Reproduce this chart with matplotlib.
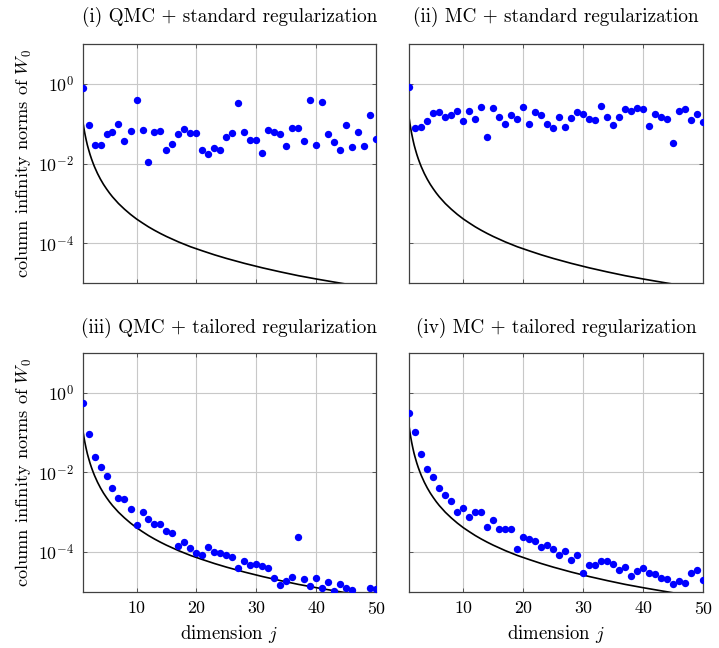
import numpy as np
import matplotlib
matplotlib.use("Agg")
import matplotlib.pyplot as plt

plt.rcParams["font.family"] = "serif"
plt.rcParams["font.serif"] = ["cmr10", "DejaVu Serif"]
plt.rcParams["mathtext.fontset"] = "cm"
plt.rcParams["axes.formatter.use_mathtext"] = True
plt.rcParams["font.size"] = 12

dims = np.arange(1, 51)

# column infinity norms of W_0
qmc_std = [0.79, 0.094, 0.030, 0.030, 0.055, 0.061, 0.096, 0.037, 0.066, 0.40,
           0.071, 0.0108, 0.062, 0.064, 0.0224, 0.0316, 0.054, 0.072, 0.060, 0.059,
           0.0215, 0.017, 0.025, 0.0224, 0.0456, 0.059, 0.34, 0.061, 0.040, 0.040,
           0.018, 0.069, 0.063, 0.055, 0.028, 0.079, 0.078, 0.0376, 0.39, 0.030,
           0.35, 0.057, 0.035, 0.022, 0.092, 0.0266, 0.061, 0.027, 0.165, 0.041]
mc_std = [0.83, 0.079, 0.083, 0.114, 0.188, 0.20, 0.15, 0.17, 0.21, 0.117,
          0.21, 0.135, 0.26, 0.046, 0.25, 0.144, 0.096, 0.17, 0.135, 0.27,
          0.098, 0.20, 0.168, 0.096, 0.077, 0.152, 0.083, 0.141, 0.192, 0.174,
          0.133, 0.124, 0.28, 0.15, 0.093, 0.15, 0.23, 0.207, 0.25, 0.233,
          0.089, 0.178, 0.15, 0.128, 0.033, 0.21, 0.23, 0.121, 0.174, 0.112]
qmc_tail = [0.54, 0.089, 0.0237, 0.0136, 0.0081, 0.0040, 0.0023, 0.0021, 0.00123, 4.7e-4,
            1.02e-3, 6.7e-4, 5.2e-4, 5.0e-4, 3.3e-4, 3.0e-4, 1.41e-4, 1.78e-4, 1.28e-4, 9.6e-5,
            8.4e-5, 1.35e-4, 1.0e-4, 9.3e-5, 8.3e-5, 7.5e-5, 4.1e-5, 6.1e-5, 4.7e-5, 5.1e-5,
            4.5e-5, 4.0e-5, 2.2e-5, 1.47e-5, 1.92e-5, 2.4e-5, 2.37e-4, 2.07e-5, 1.45e-5, 2.28e-5,
            1.24e-5, 1.81e-5, 1.08e-5, 1.55e-5, 1.26e-5, 1.15e-5, 7e-6, 7e-6, 1.24e-5, 1.2e-5]
mc_tail = [0.30, 0.102, 0.029, 0.0119, 0.0076, 0.0040, 0.0027, 0.00195, 0.00104, 0.00126,
           7.4e-4, 1.0e-3, 1.0e-3, 4.3e-4, 6.3e-4, 3.7e-4, 3.9e-4, 3.7e-4, 1.2e-4, 2.4e-4,
           2.14e-4, 1.88e-4, 1.36e-4, 1.55e-4, 1.17e-4, 8.4e-5, 1.08e-4, 6.4e-5, 8.4e-5, 3.0e-5,
           4.8e-5, 4.7e-5, 5.9e-5, 5.9e-5, 5.0e-5, 3.5e-5, 4.2e-5, 2.56e-5, 3.35e-5, 3.9e-5,
           3.0e-5, 2.8e-5, 2.2e-5, 2.07e-5, 1.55e-5, 1.9e-5, 1.65e-5, 3.0e-5, 3.5e-5, 2.04e-5]

# reference curve
curve_j = [1, 1.1, 1.25, 1.4, 1.6, 1.8, 2, 2.25, 2.5, 2.75, 3, 3.5, 4, 4.5, 5, 5.5, 6, 7, 8, 9,
           10, 11, 12, 13, 14, 15, 17, 19, 21, 23, 25, 28, 31, 34, 37, 40, 43, 46, 50]
curve_v = [0.13, 0.102, 0.0744, 0.056, 0.0401, 0.0296, 0.023, 0.0171, 0.01316, 0.0104,
           0.00834, 0.00567, 0.00406, 0.00302, 0.00233, 0.00183, 0.00147, 0.001, 7.2e-4, 5.35e-4,
           4.1e-4, 3.25e-4, 2.6e-4, 2.13e-4, 1.77e-4, 1.49e-4, 1.09e-4, 8.25e-5, 6.5e-5, 5.17e-5,
           4.2e-5, 3.16e-5, 2.44e-5, 1.93e-5, 1.55e-5, 1.28e-5, 1.07e-5, 9.0e-6, 7.4e-6]

titles = ["(i) QMC + standard regularization", "(ii) MC + standard regularization",
          "(iii) QMC + tailored regularization", "(iv) MC + tailored regularization"]
series = [qmc_std, mc_std, qmc_tail, mc_tail]

fig = plt.figure(figsize=(7.19, 6.48), dpi=100)
W, H = 719, 648
boxes = [(82.5, 44), (409.3, 44), (82.5, 352.7), (409.3, 352.7)]
aw, ah = 294, 239.3

for k in range(4):
    x0, y0 = boxes[k]
    ax = fig.add_axes([x0 / W, 1 - (y0 + ah) / H, aw / W, ah / H])
    ax.set_yscale("log")
    ax.set_xlim(1, 50)
    ax.set_ylim(1e-5, 1e1)
    ax.plot(curve_j, curve_v, color="black", lw=1.2, zorder=2)
    ax.plot(dims, series[k], "o", color="blue", ms=5.3, mec="none", zorder=3)
    ax.set_xticks([10, 20, 30, 40, 50])
    ax.set_yticks([1e-4, 1e-2, 1e0])
    ax.yaxis.set_minor_locator(matplotlib.ticker.NullLocator())
    ax.grid(True, color="#c8c8c8", lw=0.8)
    ax.set_axisbelow(True)
    ax.tick_params(direction="in", length=3, width=0.6, color="#404040",
                   top=True, right=True, labelsize=12.8, pad=6)
    for s in ax.spines.values():
        s.set_color("#404040")
        s.set_linewidth(0.9)
    ax.set_title(titles[k], fontsize=13.8, pad=16 if k < 2 else 14)
    if k < 2:
        ax.tick_params(labelbottom=False)
    else:
        ax.set_xlabel("dimension $j$", fontsize=13.5, labelpad=4)
    if k % 2 == 1:
        ax.tick_params(labelleft=False)
    else:
        ax.set_ylabel("column infinity norms of $W_0$", fontsize=13.2, labelpad=3)

fig.savefig("out.png", dpi=100)
